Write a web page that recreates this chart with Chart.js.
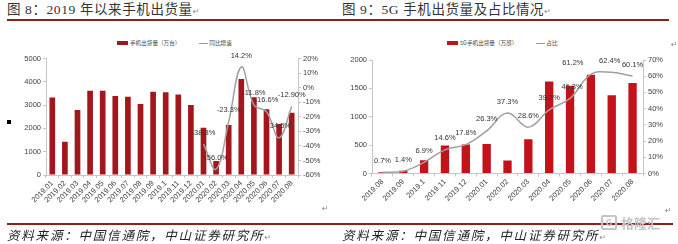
<!DOCTYPE html>
<html>
<head>
<meta charset="utf-8">
<script src="https://cdn.jsdelivr.net/npm/chart.js@4.4.0/dist/chart.umd.min.js"></script>
<style>
  body { margin: 0; width: 678px; height: 244px; background: #fff; position: relative; overflow: hidden; }
  .title { position: absolute; top: 2px; font-family: 'Liberation Serif', 'Noto Sans CJK SC', serif; font-size: 13.5px; line-height: 16px; color: #333; white-space: nowrap; letter-spacing: 0.6px; }
  .rule { position: absolute; background: #8e1f1b; }
  .src { position: absolute; top: 227px; font-family: 'Noto Sans CJK SC', sans-serif; font-style: italic; font-size: 12.5px; line-height: 16px; letter-spacing: 1.8px; color: #222; white-space: nowrap; }
  .ret { font-family: 'DejaVu Sans', sans-serif; font-size: 8px; color: #888; letter-spacing: 0; font-style: normal; }
  .legend { position: absolute; top: 39px; height: 8px; font-family: 'Noto Sans CJK SC', sans-serif; font-size: 5.6px; line-height: 8px; color: #444; white-space: nowrap; display: flex; align-items: center; }
  .legend .box { display: inline-block; width: 11px; height: 4px; margin-right: 2px; }
  .legend .ln { display: inline-block; width: 9px; height: 1px; background: #9a9a9a; margin-left: 19px; margin-right: 1px; }
  .panel { position: absolute; top: 34px; }
  .mark { position: absolute; font-family: 'DejaVu Sans', sans-serif; font-size: 8px; color: #888; }
  .wm { position: absolute; left: 601px; top: 213px; display: flex; align-items: center; color: #c4c4c4; font-family: 'Noto Sans CJK SC', sans-serif; font-weight: bold; font-size: 13px; }
  .wm .g { width: 12px; height: 11px; border: 2px solid #c4c4c4; border-radius: 2px; margin-right: 4px; font-size: 9px; line-height: 11px; text-align: center; }
</style>
</head>
<body>
<div class="title" style="left:7px">图 8：2019 年以来手机出货量<span class="ret">↵</span></div>
<div class="title" style="left:342px">图 9：5G 手机出货量及占比情况<span class="ret">↵</span></div>
<div class="rule" style="left:7px; width:662px; top:19px; height:2px"></div>
<div class="rule" style="left:7px; width:666px; top:223px; height:1.5px"></div>

<div class="legend" style="left:117px"><i class="box" style="background:#a3161c"></i><span>手机出货量（万台）</span><i class="ln"></i><span>同比增速</span></div>
<div class="legend" style="left:447px"><i class="box" style="background:#c4121b"></i><span>5G手机出货量（万部）</span><i class="ln"></i><span>占比</span></div>

<div class="panel" style="left:0"><canvas id="c1" width="340" height="190"></canvas></div>
<div class="panel" style="left:340px"><canvas id="c2" width="338" height="190"></canvas></div>

<div style="position:absolute; left:7px; top:120px; width:4px; height:4px; background:#000"></div>
<div class="mark" style="left:322px; top:204px">↵</div>
<div class="mark" style="left:665px; top:206px">↵</div>
<div class="mark" style="left:671px; top:40px">↵</div>

<div class="src" style="left:7px">资料来源：中国信通院，中山证券研究所<span class="ret">↵</span></div>
<div class="src" style="left:342px">资料来源：中国信通院，中山证券研究所<span class="ret">↵</span></div>
<div class="wm"><div class="g">G</div>格隆汇</div>

<script>
// 图8：手机出货量（万台）及同比增速（%）
const phoneMonths = ['2019.01', '2019.02', '2019.03', '2019.04', '2019.05', '2019.06', '2019.07', '2019.08', '2019.09', '2019.1',
                     '2019.11', '2019.12', '2020.01', '2020.02', '2020.03', '2020.04', '2020.05', '2020.06', '2020.07', '2020.08'];
const phoneShipments = [3330, 1430, 2790, 3620, 3620, 3390, 3360, 3050, 3575, 3550,
                        3460, 3000, 2030, 600, 2145, 4120, 3335, 2820, 2190, 2675];
const phoneYoy = [null, null, null, null, null, null, null, null, null, null,
                  null, null, -38.8, -56.0, -23.3, 14.2, -11.8, -16.6, -34.5, -12.9];
const phoneYoyText = ['', '', '', '', '', '', '', '', '', '',
                      '', '', '-38.8%', '-56.0%', '-23.3%', '14.2%', '-11.8%', '-16.6%', '-34.5%', '-12.90%'];
const phoneAxis = [0, 5000, 1000];   // min, max, step
const yoyAxis = [-60, 20, 10];

// 图9：5G手机出货量（万部）及占比（%）
const fiveGMonths = ['2019.08', '2019.09', '2019.1', '2019.11', '2019.12', '2020.01', '2020.02',
                     '2020.03', '2020.04', '2020.05', '2020.06', '2020.07', '2020.08'];
const fiveGShipments = [20, 50, 232, 493, 510, 522, 231, 605, 1623, 1545, 1740, 1380, 1594];
const fiveGShare = [0.7, 1.4, 6.9, 14.6, 17.8, 26.3, 37.3, 28.6, 39.3, 46.3, 61.2, 62.4, 60.1];
const fiveGShareText = ['0.7%', '1.4%', '6.9%', '14.6%', '17.8%', '26.3%', '37.3%', '28.6%', '39.3%', '46.3%', '61.2%', '62.4%', '60.1%'];
const fiveGAxis = [0, 2000, 500];
const shareAxis = [0, 70, 10];

const tickFont = "'Liberation Sans Narrow', 'Liberation Sans', Arial, sans-serif";
const axisGray = '#c6c6c6';

// draws the value text above each point of a line dataset
const pointLabels = {
    id: 'pointLabels',
    afterDatasetsDraw(chart) {
        const ctx = chart.ctx;
        chart.data.datasets.forEach((ds, di) => {
            if (!ds.labelTexts) return;
            const meta = chart.getDatasetMeta(di);
            ctx.save();
            ctx.font = '7.5px ' + tickFont;
            ctx.fillStyle = '#333';
            ctx.textAlign = 'center';
            ctx.textBaseline = 'middle';
            meta.data.forEach((pt, i) => {
                const t = ds.labelTexts[i];
                if (!t) return;
                const dx = ds.labelShift ? ds.labelShift[i] : 0;
                ctx.fillText(t, pt.x + dx, pt.y - 11.5);
            });
            ctx.restore();
        });
    }
};

function yScale(position, range, width, fmt) {
    return {
        position,
        min: range[0], max: range[1],
        afterFit(s) { s.width = width; },
        ticks: { stepSize: range[2], padding: 2, color: '#404040', font: { family: tickFont, size: 7.5 }, callback: fmt },
        grid: { drawOnChartArea: false, tickLength: 3, color: axisGray },
        border: { color: axisGray }
    };
}

function xScale(height) {
    return {
        offset: true,
        afterFit(s) { s.height = height; },
        ticks: { autoSkip: false, minRotation: 45, maxRotation: 45, padding: 1, color: '#404040', font: { family: tickFont, size: 7.5 } },
        grid: { drawOnChartArea: false, offset: true, tickLength: 3, color: axisGray },
        border: { color: axisGray }
    };
}

function createComboChart(canvasId, cfg) {
    const ctx = document.getElementById(canvasId);
    return new Chart(ctx, {
        data: {
            labels: cfg.labels,
            datasets: [
                {
                    type: 'line', data: cfg.lineData, yAxisID: 'y1', order: 0,
                    borderColor: '#a0a0a0', borderWidth: 1.5, tension: 0.4,
                    pointRadius: 0, fill: false, labelTexts: cfg.lineText, labelShift: cfg.labelShift
                },
                {
                    type: 'bar', data: cfg.barData, yAxisID: 'y', order: 1,
                    backgroundColor: cfg.barColor, categoryPercentage: 1, barPercentage: cfg.barPct
                }
            ]
        },
        options: {
            responsive: false,
            animation: false,
            layout: { padding: { top: cfg.top, left: 0, right: 0, bottom: 0 } },
            plugins: { legend: { display: false }, tooltip: { enabled: false } },
            scales: {
                x: xScale(cfg.xHeight),
                y: yScale('left', cfg.leftAxis, cfg.leftWidth),
                y1: yScale('right', cfg.rightAxis, cfg.rightWidth, v => v + '%')
            }
        },
        plugins: [pointLabels]
    });
}

createComboChart('c1', {
    labels: phoneMonths, barData: phoneShipments, lineData: phoneYoy, lineText: phoneYoyText,
    barColor: '#a3161c', barPct: 0.45,
    leftAxis: phoneAxis, rightAxis: yoyAxis,
    top: 24.5, xHeight: 49, leftWidth: 46, rightWidth: 42
});

createComboChart('c2', {
    labels: fiveGMonths, barData: fiveGShipments, lineData: fiveGShare, lineText: fiveGShareText,
    labelShift: [0, 0, 0, 0, 0, 0, 0, 0, 0, 2, -18, -2, 0],
    barColor: '#c4121b', barPct: 0.4,
    leftAxis: fiveGAxis, rightAxis: shareAxis,
    top: 26, xHeight: 50.5, leftWidth: 32, rightWidth: 35
});
</script>
</body>
</html>
